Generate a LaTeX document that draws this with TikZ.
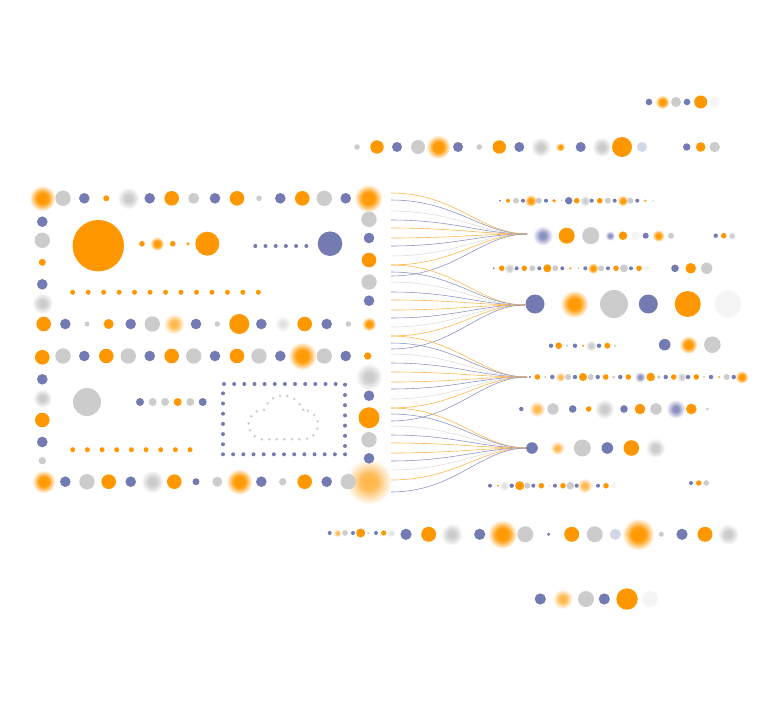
\documentclass[tikz,border=0pt]{standalone}
\usepackage{xcolor}
\usetikzlibrary{positioning}
\definecolor{orng}{HTML}{FF9800}
\definecolor{indi}{HTML}{747AB2}
\definecolor{ash}{HTML}{CCCCCC}
\definecolor{mist}{HTML}{F5F5F5}
\definecolor{haze}{HTML}{D3D5E8}
\pgfdeclareradialshading{softorng}{\pgfpoint{0bp}{0bp}}{color(0bp)=(orng);color(11bp)=(orng!95);color(17bp)=(orng!55);color(25bp)=(white);color(50bp)=(white)}
\pgfdeclareradialshading{softindi}{\pgfpoint{0bp}{0bp}}{color(0bp)=(indi!85);color(8bp)=(indi!80);color(15bp)=(indi!45);color(25bp)=(white);color(50bp)=(white)}
\pgfdeclareradialshading{softash}{\pgfpoint{0bp}{0bp}}{color(0bp)=(ash);color(8bp)=(ash);color(16bp)=(ash!55);color(25bp)=(white);color(50bp)=(white)}
\pgfdeclareradialshading{paleorng}{\pgfpoint{0bp}{0bp}}{color(0bp)=(orng!72);color(9bp)=(orng!65);color(16bp)=(orng!35);color(25bp)=(white);color(50bp)=(white)}
\pgfdeclareradialshading{paleash}{\pgfpoint{0bp}{0bp}}{color(0bp)=(ash!60);color(9bp)=(ash!55);color(16bp)=(ash!30);color(25bp)=(white);color(50bp)=(white)}
\tikzset{
	o/.style={fill=orng},
	b/.style={fill=indi},
	g/.style={fill=ash},
	l/.style={fill=mist},
	h/.style={fill=haze},
	so/.style={shade,shading=softorng},
	sb/.style={shade,shading=softindi},
	sg/.style={shade,shading=softash},
	po/.style={shade,shading=paleorng},
	pg/.style={shade,shading=paleash},
	wireo/.style={draw=orng!70,line width=.6pt},
	wireb/.style={draw=indi!85,line width=.55pt},
	wireg/.style={draw=ash!70,line width=.55pt}
}
\newcommand{\dotrow}[2]{\foreach \x/\r/\k in {#2} \path[\k] (\x,#1) circle (\r);}
\newcommand{\dotcol}[2]{\foreach \y/\r/\k in {#2} \path[\k] (#1,\y) circle (\r);}
\newcommand{\fan}[2]{\foreach \y/\k in {#2} {
		\coordinate (s\y) at (391,\y);
		\draw[wire\k] (s\y) .. controls +(64,0) and +(-46,0) .. (#1);
	}}
\begin{document}
\begin{tikzpicture}[x=1pt,y=-1pt]
	\useasboundingbox (0,0) rectangle (765,720);

	\coordinate (hubA) at (527,234);
	\coordinate (hubB) at (525,305);
	\coordinate (hubC) at (527,377);
	\coordinate (hubD) at (527,448);

	\dotrow{481.7}{369/23/po}

	\fan{hubA}{193/o,200/b,211/g,220/b,228/o,238/o,246/b,256/g,265/o,276/b}
	\fan{hubB}{265/o,272/b,282/g,292/b,300/o,310/o,318/b,327/g,336/o,349/b}
	\fan{hubC}{336/o,343/b,354/g,363/b,372/o,382/o,389/b,399/g,408/o,421/b}
	\fan{hubD}{408/o,414/b,426/g,435/b,443/o,453/o,461/b,470/g,480/o,492/b}

	\dotrow{198.3}{42.3/13/so,128.3/11/sg,368.3/14/so,63/7.7/g,84.3/5.3/b,106.3/3/o,149.7/5.3/b,171.7/7.3/o,193.7/5.5/g,215/5.3/b,237/7.3/o,259/2.8/g,280.3/5.3/b,302.3/7.3/o,324.3/7.7/g,345.7/5.3/b}
	\dotcol{42.3}{303.3/10.5/sg,221.7/5.3/b,240.3/7.7/g,262.3/3.5/o,284.3/5.3/b}
	\dotcol{369}{219.3/7.7/g,238/5.3/b,260/7.3/o,282/7.7/g,300.7/5.3/b}
	\dotrow{324}{174/10.5/po,282.7/8/pg,369/7/so,43.7/7.3/o,65.3/5.3/b,87/2.5/g,108.7/5/o,130.7/5.3/b,152.3/7.7/g,196/5.3/b,217.3/2.7/g,239.3/10/o,261.3/5.3/b,304.7/7.3/o,326.7/5.3/b,348.3/2.8/g}
	\path[o] (98.3,245.7) circle (25.7);
	\dotrow{243.7}{157/7/so,142/2.8/o,172.7/2.8/o,188/1.6/o,207.3/12/o,330/12.3/b}
	\foreach \i in {0,...,5} \path[b] (255.3+10.2*\i,246) circle (2);
	\foreach \i in {0,...,12} \path[o] (72.7+15.47*\i,292.3) circle (2.5);

	\dotrow{356}{302.3/14/so,63/7.7/g,84.3/5.3/b,106.3/7.3/o,128.3/7.7/g,149.7/5.3/b,171.7/7.3/o,193.7/7.7/g,215/5.3/b,237/7.3/o,259/7.7/g,280.3/5.3/b,324.3/7.7/g,345.7/5.3/b,367.7/3.7/o}
	\path[o] (42.3,357.3) circle (7.3);
	\dotcol{42.3}{398.3/9.5/sg,379.3/5.3/b,420/7.3/o,442/5.3/b,460.7/3.7/g}
	\dotcol{369}{376.7/13.5/sg,395.7/5.3/b,417.7/10.5/o,439.7/7.7/g,458.3/5.3/b}
	\dotrow{481.7}{43.7/11.5/so,152.3/11.5/sg,239.3/13/so,65.3/5.3/b,87/7.7/g,108.7/7.3/o,130.7/5.3/b,174.3/7.3/o,196/3.5/b,217.3/5/g,261.3/5.3/b,282.7/3.7/g,304.7/7.3/o,326.7/5.3/b,348.3/7.7/g}
	\path[g] (87,402) circle (14);
	\dotrow{402}{140/4/b,152.7/4/g,165/4/g,177.7/4/o,190.3/4/g,202.7/4/b}
	\foreach \i in {0,...,8} \path[o] (72.7+14.67*\i,449.7) circle (2.5);

	\foreach \i in {0,...,11} \path[b] (224+10.15*\i,384) circle (2);
	\foreach \i in {0,...,12} \path[b] (223+10.17*\i,454.3) circle (2);
	\foreach \i in {0,...,5} {
		\path[b] (223,393.3+10.2*\i) circle (2);
		\path[b] (345,395+10.2*\i) circle (2);
	}
	\path[b] (345,384.7) circle (2);
	\foreach \x/\y in {280/395.7,287.3/396,294.3/399,299.7/404.3,303.3/409.7,308/410.7,314.3/415,317.7/421.3,317.3/428.7,313.3/435.3,307/438.7,299.3/439.3,292/439.3,284.3/439.3,276.7/439.3,269.3/439.3,261.7/439.3,254.7/436.3,250/430.3,248.7/423.3,251.3/416.3,256.7/411.3,264/409.7,267.7/403.3,273/398.3}
		\path[g] (\x,\y) circle (1.4);

	\dotrow{102}{662.3/7/so,649/3.3/b,676/5/g,687/3.3/b,700.7/6.5/o,714.3/5/l}
	\dotrow{147}{438.3/12/so,540.7/10/sg,560.3/4.5/so,601.7/10/sg,357/2.8/g,377/6.7/o,397/5/b,418/7/g,458/5/b,479.3/2.8/g,499.3/6.7/o,519.3/5/b,580.7/5/b,622/10/o,642/5/h,686.7/3.7/b,700.7/4.8/o,714.7/5.2/g}
	\dotrow{200.7}{530.7/6/so,585/5.5/sg,622.7/5.5/so,500/1/b,508/2/o,516/3/g,523/2/b,538.7/3/g,546/2/b,554/1.8/o,561.7/1/g,568.7/3.7/b,576.7/2.8/o,591.7/2/b,599.7/2.8/o,607.7/3/g,614.7/2/b,630.3/3/g,637.3/2/b,645.3/1.2/o,653.3/.8/g}
	\dotrow{235.7}{542.7/10/sb,610/5/sb,658.3/6/so,731.7/4/sg,566.7/8/o,590.7/8.5/g,623/4.3/o,635.7/4.5/l,645.7/3/b,671/3/g,715.7/2.2/b,723.7/2.8/o}
	\dotrow{268.3}{509.3/5.5/sg,593/5.5/so,493.7/1/b,501.7/2.8/o,516.7/2/b,524.3/2.8/o,532.3/3/g,539.3/2/b,547.3/4/o,555.3/3/g,562.3/2/b,570.3/1.2/o,578.3/1/g,585.3/2/b,601/3/g,608/2/b,616/2.8/o,624/4/g,631/2/b,639/2.8/o,647/2.8/l,675/3.8/b,690.7/5.3/o,706.7/5.7/g}
	\dotrow{304}{574.3/14/so,535/9.5/b,614/14/g,648.3/9.5/b,687.7/13/o,727.7/13.5/l}
	\dotrow{345.7}{591/5.5/sg,551/2.2/b,558.7/3.3/o,567/1.3/g,575/2.2/b,583/1.2/o,599/2.2/b,607.3/3/o,615/1.2/g}
	\dotrow{344.7}{688.3/9/so,664.7/5.8/b,712.3/8.3/g}
	\dotrow{377}{560.3/5/po,640/5.5/sb,681.7/5/sg,741.7/6.5/so,530/1.2/b,537.3/2.8/o,545.3/1.2/g,552.3/2.2/b,568/3/g,575/2.2/b,583/4/o,590.7/3/g,597.7/2.2/b,605.7/2.8/o,613.7/1.7/g,620.3/2.2/b,628.3/2.8/o,650.7/4.3/o,658.7/1.8/g,665.7/2.2/b,673.7/2.8/o,688/2.2/b,696.3/2.8/o,704/1.2/g,711/2.2/b,719/1/o,726.7/3/g,733.7/2.2/b}
	\dotrow{409}{537/8/po,604.3/10/sg,675.7/9.5/sb,521.3/2.2/b,553/5.7/g,572.7/3.8/b,588.7/2.8/o,624/3.8/b,640/5.3/o,656/5.7/g,691.3/5.3/o,707.3/1.5/g}
	\dotrow{448}{557.3/7/po,655.3/10/sg,532/5.8/b,582.3/8.5/g,607.3/5.8/b,631.3/7.8/o}
	\dotrow{485.7}{504/5.5/pg,584.7/7.5/po,490/2/b,498/1/o,511.7/2.2/b,519.7/4.5/o,527.3/3/g,533.3/2/b,541.3/2.8/o,549.3/.8/g,555/2/b,563/2.8/o,570.3/3.8/g,576.7/2/b,592.3/.6/g,598/2/b,606/2.8/o,614/2.8/l}
	\dotrow{483}{691/2/b,698.7/2.7/o,706.3/2.8/g}
	\dotrow{533}{337.3/4/po,391.3/4.2/pg,329.7/2/b,345/2.8/g,353/2/b,360.7/4.5/o,368.3/1.2/g,376/2/b,383.7/2.6/o}
	\dotrow{534.3}{451.7/11/sg,502.3/14.5/so,638.3/16/so,728/10.5/sg,406/5.6/b,428.7/7.5/o,479.7/5.6/b,525.3/8/g,548.7/1.7/b,571.7/7.5/o,594.7/8/g,615.3/5.5/h,661.3/2.5/g,682/5.6/b,705/7.5/o}
	\dotrow{599}{562.7/10/po,540.3/5.6/b,586/8/g,604.3/5.6/b,627/10.7/o,650.3/8/l}
\end{tikzpicture}
\end{document}
